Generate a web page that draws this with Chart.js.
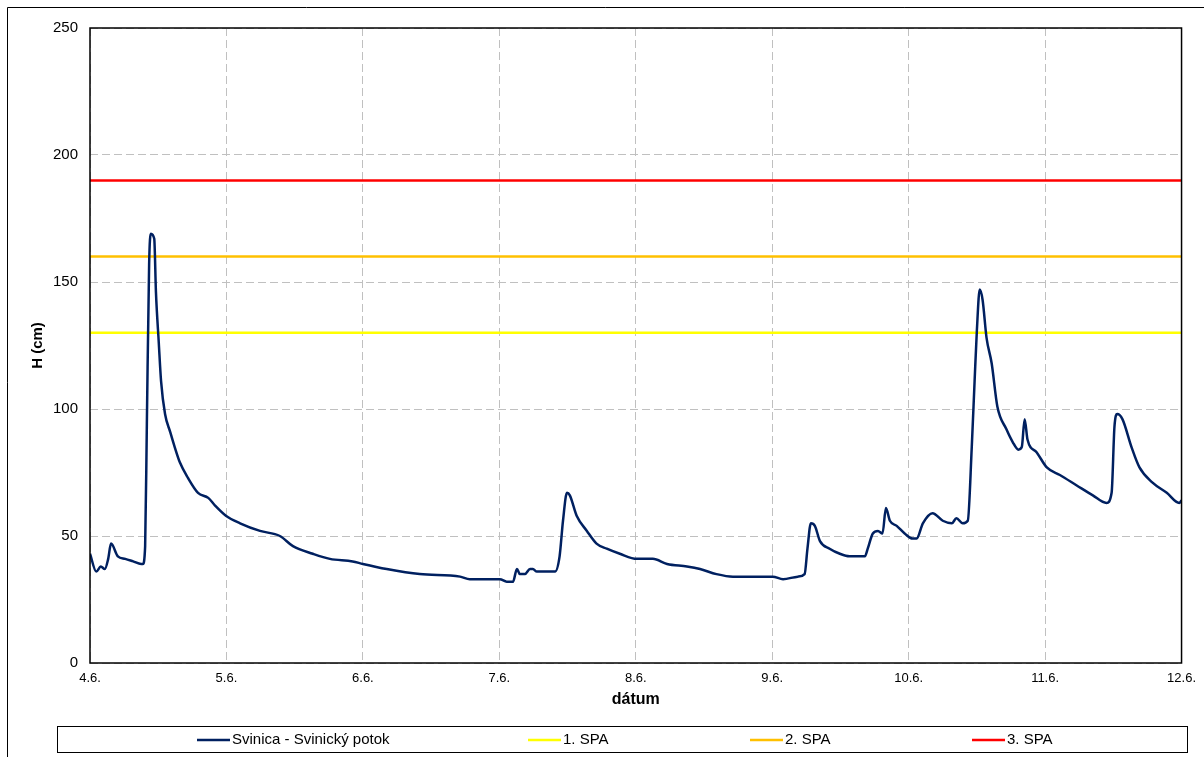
<!DOCTYPE html>
<html>
<head>
<meta charset="utf-8">
<script src="https://cdn.jsdelivr.net/npm/chart.js@4.4.1/dist/chart.umd.min.js"></script>
<style>
    html, body { margin: 0; padding: 0; background: #fff; }
    #wrap { width: 1204px; height: 757px; }
</style>
</head>
<body>
<div id="wrap"><canvas id="myChart" width="1204" height="757"></canvas></div>
<script>
    // hours since 4.6. 00:00 and water level H (cm)
    var hours = [0, 1.1, 1.9, 2.6, 3.2, 3.7, 4.9, 6.2, 7.6, 9.0, 9.3, 9.7, 10.0, 10.4, 10.7, 11.3, 11.6, 12.1, 12.5, 13.2,
        14.1, 14.9, 15.8, 17.2, 19.0, 20.8, 22.0, 23.9, 26.4, 29.9, 33.4, 35.7, 39.2, 42.2, 46.2, 48.0, 52.2, 58.0, 65.1,
        66.8, 72.1, 73.3, 74.4, 75.1, 75.6, 76.5, 77.4, 77.9, 78.6, 81.8, 82.6, 83.2, 83.9, 84.4, 85.6, 87.4, 89.1, 90.9,
        93.2, 96.2, 99.0, 101.5, 105.0, 107.3, 110.2, 113.1, 120.1, 121.9, 124.5, 125.7, 126.2, 126.8, 127.5, 128.4,
        130.1, 131.9, 133.6, 136.3, 136.8, 137.7, 138.6, 139.4, 140.0, 140.7, 141.9, 143.3, 144.7, 145.4, 146.5, 148.2,
        150.0, 151.6, 152.4, 153.5, 154.4, 155.1, 155.6, 156.0, 156.5, 157.0, 157.7, 158.6, 159.6, 161.2, 162.3, 163.3,
        163.9, 164.4, 164.9, 166.5, 168.3, 170.6, 173.5, 176.4, 178.8, 179.7, 180.2, 180.7, 181.6, 183.2, 184.6, 186.9,
        189.4, 191.6, 192];
    var level = [43, 36, 38, 37, 41, 47, 42, 41, 40, 39, 39, 46, 94, 157, 169, 167, 146, 126, 111, 98,
        91, 85, 79, 73, 67, 65, 62, 58, 55, 52, 50, 46, 43, 41, 40, 39, 37, 35, 34,
        33, 33, 32, 32, 37, 35, 35, 37, 37, 36, 36, 42, 56, 67, 66, 58, 52, 47, 45,
        43, 41, 41, 39, 38, 37, 35, 34, 34, 33, 34, 35, 45, 55, 54, 48,
        45, 43, 42, 42, 45, 51, 52, 51, 61, 56, 54, 51, 49, 49, 55, 59,
        56, 55, 57, 55, 56, 85, 111, 131, 147, 143, 128, 118, 101, 92, 87, 84,
        85, 96, 88, 83, 77, 74, 70, 66, 63, 67, 93, 98, 96, 85, 77, 71,
        67, 63, 64];
    var dayLabels = ['4.6.', '5.6.', '6.6.', '7.6.', '8.6.', '9.6.', '10.6.', '11.6.', '12.6.'];
    var spa1 = 130;
    var spa2 = 160;
    var spa3 = 190;
    var seriesName = 'Svinica - Svinický potok';

    var points = hours.map(function (h, i) { return { x: h, y: level[i] }; });
    function flat(v) { return [{ x: 0, y: v }, { x: 192, y: v }]; }

    Chart.defaults.font.family = "'Liberation Sans', Arial, sans-serif";
    Chart.defaults.font.size = 13;
    Chart.defaults.color = '#000';

    var framePlugin = {
        id: 'frame',
        beforeDraw: function (chart) {
            var c = chart.ctx;
            c.save();
            c.fillStyle = '#fff';
            c.fillRect(0, 0, chart.width, chart.height);
            c.strokeStyle = '#000';
            c.lineWidth = 1;
            c.beginPath();
            c.moveTo(7.5, chart.height);
            c.lineTo(7.5, 7.5);
            c.lineTo(chart.width, 7.5);
            c.stroke();
            c.restore();
        },
        afterDraw: function (chart) {
            var a = chart.chartArea;
            var c = chart.ctx;
            c.save();
            c.strokeStyle = '#000';
            c.lineWidth = 1.5;
            c.strokeRect(a.left, a.top, a.right - a.left, a.bottom - a.top);
            // legend box
            c.lineWidth = 1;
            c.strokeRect(57.5, 726.5, 1130, 26);
            var starts = [197, 528, 750, 972];
            c.font = "15px 'Liberation Sans', Arial, sans-serif";
            c.textBaseline = 'middle';
            c.fillStyle = '#000';
            chart.data.datasets.forEach(function (ds, i) {
                var x = starts[i];
                c.strokeStyle = ds.borderColor;
                c.lineWidth = 2.5;
                c.beginPath();
                c.moveTo(x, 740);
                c.lineTo(x + 33, 740);
                c.stroke();
                c.fillText(ds.label, x + 35, 740);
            });
            c.restore();
        }
    };

    new Chart('myChart', {
        type: 'line',
        data: {
            datasets: [
                { label: seriesName, data: points, borderColor: '#002060', borderWidth: 2.5, pointRadius: 0, cubicInterpolationMode: 'monotone', order: 0 },
                { label: '1. SPA', data: flat(spa1), borderColor: '#ffff00', borderWidth: 2.5, pointRadius: 0, order: 1 },
                { label: '2. SPA', data: flat(spa2), borderColor: '#ffc000', borderWidth: 2.5, pointRadius: 0, order: 1 },
                { label: '3. SPA', data: flat(spa3), borderColor: '#ff0000', borderWidth: 2.5, pointRadius: 0, order: 1 }
            ]
        },
        options: {
            responsive: false,
            animation: false,
            layout: { padding: { top: 28, right: 22, bottom: 44, left: 0 } },
            plugins: { legend: { display: false }, tooltip: { enabled: false } },
            scales: {
                x: {
                    type: 'linear', min: 0, max: 192,
                    afterFit: function (s) { s.height = 50; },
                    ticks: {
                        stepSize: 24, padding: 8,
                        callback: function (v) { return dayLabels[v / 24]; }
                    },
                    grid: { color: '#c0c0c0', drawTicks: false },
                    border: { dash: [8, 4], display: false },
                    title: { display: true, text: 'dátum', font: { weight: 'bold', size: 16 }, padding: { top: 2 } }
                },
                y: {
                    min: 0, max: 250,
                    afterFit: function (s) { s.width = 90; },
                    ticks: { stepSize: 50, padding: 12, font: { size: 15 } },
                    grid: { color: '#c0c0c0', drawTicks: false },
                    border: { dash: [8, 4], display: false },
                    title: { display: true, text: 'H (cm)', font: { weight: 'bold', size: 15 }, padding: { top: 29, bottom: 0 } }
                }
            }
        },
        plugins: [framePlugin]
    });
</script>
</body>
</html>
